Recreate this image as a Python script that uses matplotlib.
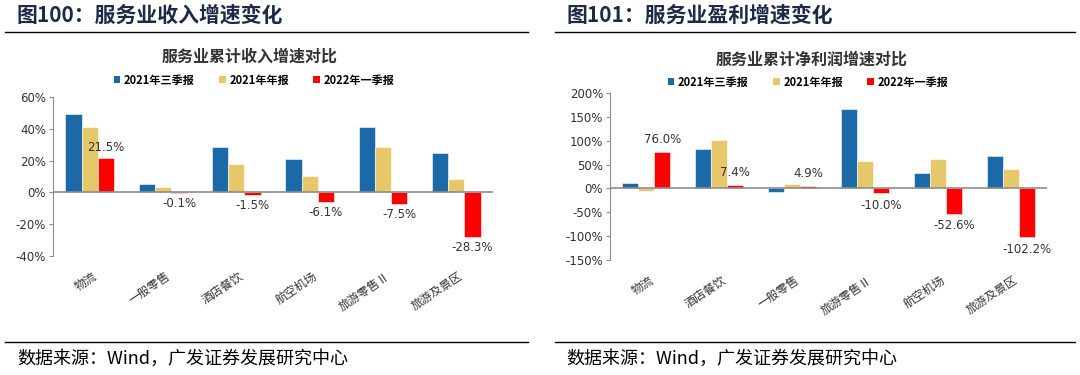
import numpy as np
import matplotlib
matplotlib.use("Agg")
import matplotlib.pyplot as plt
from matplotlib.lines import Line2D
from matplotlib.patches import Patch

plt.rcParams['font.family'] = ['Noto Sans CJK SC', 'DejaVu Sans']

series_names = ["2021年三季报", "2021年年报", "2022年一季报"]
colors = ["#1B69A6", "#E6C86A", "#FF0000"]

rev_cats = ["物流", "一般零售", "酒店餐饮", "航空机场", "旅游零售Ⅱ", "旅游及景区"]
rev_q3_2021 = [49.3, 5.2, 28.5, 21.2, 40.9, 25.0]
rev_fy_2021 = [40.9, 3.1, 17.6, 10.1, 28.5, 8.6]
rev_q1_2022 = [21.5, -0.1, -1.5, -6.1, -7.5, -28.3]
rev_ticks = [60, 40, 20, 0, -20, -40]

prof_cats = ["物流", "酒店餐饮", "一般零售", "旅游零售Ⅱ", "航空机场", "旅游及景区"]
prof_q3_2021 = [11.0, 83.5, -7.0, 167.0, 32.0, 67.0]
prof_fy_2021 = [-5.5, 101.0, 9.8, 57.0, 62.0, 40.0]
prof_q1_2022 = [76.0, 7.4, 4.9, -10.0, -52.6, -102.2]
prof_ticks = [200, 150, 100, 50, 0, -50, -100, -150]

W, H = 1080, 375
fig = plt.figure(figsize=(W / 100, H / 100), dpi=100)


def px(x0, y0, x1, y1):
    return [x0 / W, 1 - y1 / H, (x1 - x0) / W, (y1 - y0) / H]


def draw_panel(rect, cats, vals, ticks, label_off):
    ax = fig.add_axes(rect)
    x = np.arange(len(cats))
    w = 0.22
    for i, (v, c) in enumerate(zip(vals, colors)):
        ax.bar(x + (i - 1) * w, v, w, color=c, edgecolor="white", linewidth=0.4, zorder=2)
    for xi, v in zip(x, vals[2]):
        if v >= 0:
            ax.text(xi + w, v + label_off, f"{v:.1f}%", ha="center", va="bottom",
                    fontsize=8.5, color="#333333", family=["DejaVu Sans"])
        else:
            ax.text(xi + w, v - label_off, f"{v:.1f}%", ha="center", va="top",
                    fontsize=8.5, color="#333333", family=["DejaVu Sans"])
    ax.axhline(0, color="#8c8c8c", linewidth=1.2, zorder=3)
    ax.set_xlim(-0.5, len(cats) - 0.5)
    ax.set_ylim(min(ticks), max(ticks))
    ax.set_yticks(ticks)
    ax.set_yticklabels([f"{t}%" for t in ticks], fontsize=8.5, color="#333333", family=["DejaVu Sans"])
    # category labels sit a little right of the group centre, as in the source
    ax.set_xticks(x + 0.13)
    ax.set_xticklabels(cats, rotation=34, ha="right", fontsize=8.5, color="#333333")
    ax.tick_params(axis="x", length=0, pad=10)
    ax.tick_params(axis="y", direction="out", length=3, color="#8c8c8c", pad=2)
    for s in ["top", "right", "bottom"]:
        ax.spines[s].set_visible(False)
    ax.spines["left"].set_color("#8c8c8c")
    return ax


draw_panel(px(53, 97, 493, 256), rev_cats, [rev_q3_2021, rev_fy_2021, rev_q1_2022], rev_ticks, 2.5)
draw_panel(px(610, 93, 1047, 260), prof_cats, [prof_q3_2021, prof_fy_2021, prof_q1_2022], prof_ticks, 12)

title_color = "#1C2A48"
fig.text(17 / W, 1 - 15 / H, "图100：服务业收入增速变化", fontsize=15, fontweight="bold",
         color=title_color, va="center", ha="left")
fig.text(566 / W, 1 - 15 / H, "图101：服务业盈利增速变化", fontsize=15, fontweight="bold",
         color=title_color, va="center", ha="left")

for (x0, x1, y) in [(5, 528, 32), (555, 1075, 32), (5, 528, 342), (555, 1075, 342)]:
    fig.add_artist(Line2D([x0 / W, x1 / W], [1 - y / H, 1 - y / H], color="black", linewidth=1.0))

fig.text(250 / W, 1 - 57 / H, "服务业累计收入增速对比", fontsize=11.5, fontweight="bold",
         color="#333333", ha="center", va="center")
fig.text(812 / W, 1 - 60 / H, "服务业累计净利润增速对比", fontsize=11.5, fontweight="bold",
         color="#333333", ha="center", va="center")

handles = [Patch(facecolor=c, edgecolor="none") for c in colors]
for cx, cy in [(254, 80), (808, 82)]:
    fig.legend(handles, series_names, loc="center", bbox_to_anchor=(cx / W, 1 - cy / H),
               ncol=3, frameon=False, handlelength=0.6, handleheight=0.6,
               handletextpad=0.3, columnspacing=2.2, prop={"weight": "bold", "size": 8})

src = "数据来源：Wind，广发证券发展研究中心"
fig.text(17 / W, 1 - 359 / H, src, fontsize=13, color="black", ha="left", va="center")
fig.text(566 / W, 1 - 359 / H, src, fontsize=13, color="black", ha="left", va="center")

fig.savefig("out.png", dpi=100)
